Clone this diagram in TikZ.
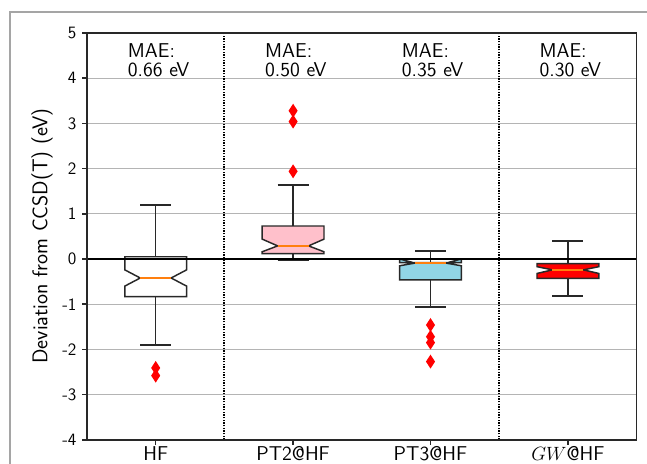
\documentclass[tikz,border=0pt]{standalone}
\usepackage{amsmath, amssymb}
\usepackage{xcolor}
\usepackage{tikz}

\definecolor{boxpink}{RGB}{255,192,203}
\definecolor{boxblue}{RGB}{145,213,230}
\definecolor{boxred}{RGB}{255,0,0}
\definecolor{medorange}{RGB}{255,127,14}
\definecolor{gridgray}{RGB}{180,180,180}
\definecolor{framegray}{RGB}{165,165,165}
\definecolor{edgegray}{RGB}{40,40,40}

\tikzset{
  gridln/.style={color=gridgray, line width=0.75pt},
  axisln/.style={color=edgegray, line width=1.1pt},
  whisk/.style={color=edgegray, line width=1.1pt},
  boxline/.style={color=edgegray, line width=1.1pt, line join=miter},
  median/.style={color=medorange, line width=1.1pt},
  sepline/.style={color=black, line width=1.6pt, dash pattern={on 1pt off 1pt}},
  zeroline/.style={color=black, line width=1.6pt},
  flier/.style={fill=red},
  bigtxt/.style={font=\sffamily\fontsize{15}{14.5}\selectfont},
  ticktxt/.style={font=\sffamily\fontsize{13}{14}\selectfont},
}

% notched box: x, whislo, q1, notch low, median, notch high, q3, whishi, fill
\newcommand{\notchbox}[9]{%
  \draw [whisk] (#1,#3) -- (#1,#2) ({#1-0.1125},#2) -- ({#1+0.1125},#2);
  \draw [whisk] (#1,#7) -- (#1,#8) ({#1-0.1125},#8) -- ({#1+0.1125},#8);
  \draw [boxline, fill=#9] ({#1-0.225},#3) -- ({#1+0.225},#3) -- ({#1+0.225},#4) -- ({#1+0.1125},#5) -- ({#1+0.225},#6) -- ({#1+0.225},#7) -- ({#1-0.225},#7) -- ({#1-0.225},#6) -- ({#1-0.1125},#5) -- ({#1-0.225},#4) -- cycle;
  \draw [median] ({#1-0.1125},#5) -- ({#1+0.1125},#5);
}
% outlier marker
\newcommand{\flier}[2]{\fill [flier, shift={(#1,#2)}] (-0.033,0) -- (0,0.155) -- (0.033,0) -- (0,-0.155) -- cycle;}

\begin{document}
\begin{tikzpicture}[x=0.75pt,y=0.75pt,yscale=-1,xscale=1]
\useasboundingbox (0,0) rectangle (647,464);

%Shape: outer frame
\draw [color=framegray, line width=1pt] (647,12) -- (10,12) -- (10,464);

\begin{scope}[shift={(18.3,259)}, xscale=137.4, yscale=-45.2]
  % grid
  \foreach \v in {-4,...,5} {\draw [gridln] (0.5,\v) -- (4.5,\v);}
  % separators
  \draw [sepline] (1.5,-4) -- (1.5,5);
  \draw [sepline] (3.5,-4) -- (3.5,5);

  %Shape: boxes
  \notchbox{1}{-1.90}{-0.83}{-0.60}{-0.42}{-0.24}{0.05}{1.19}{white}
  \notchbox{2}{-0.03}{0.12}{0.16}{0.29}{0.44}{0.73}{1.64}{boxpink}
  \notchbox{3}{-1.06}{-0.46}{-0.15}{-0.09}{0.0}{-0.08}{0.18}{boxblue}
  \notchbox{4}{-0.82}{-0.43}{-0.32}{-0.24}{-0.17}{-0.10}{0.40}{boxred}

  % outliers
  \flier{1}{-2.41} \flier{1}{-2.58}
  \flier{2}{1.94} \flier{2}{3.04} \flier{2}{3.28}
  \flier{3}{-1.46} \flier{3}{-1.72} \flier{3}{-1.85} \flier{3}{-2.27}

  \draw [zeroline] (0.5,0) -- (4.5,0);
  \draw [axisln] (0.5,-4) rectangle (4.5,5);

  % y ticks
  \foreach \v in {-4,...,5} {
    \draw [axisln] (0.5,\v) -- (0.46,\v);
    \node [ticktxt, anchor=east, inner sep=0pt] (ytick\v) at (0.425,\v) {\v};
  }
  % x ticks
  \foreach \i/\lab in {1/HF, 2/PT2@HF, 3/PT3@HF, 4/$GW$@HF} {
    \draw [axisln] (\i,-4) -- (\i,-4.12);
    \node [bigtxt, anchor=base, inner sep=0pt] (xtick\i) at (\i,-4.46) {\lab};
  }

  % Text Node
  \node [bigtxt, anchor=base west, align=left, inner sep=0pt] (mae1) at (0.796,4.03) {MAE:\\0.66 eV};
  % Text Node
  \node [bigtxt, anchor=base west, align=left, inner sep=0pt] (mae2) at (1.795,4.03) {MAE:\\0.50 eV};
  % Text Node
  \node [bigtxt, anchor=base west, align=left, inner sep=0pt] (mae3) at (2.790,4.03) {MAE:\\0.35 eV};
  % Text Node
  \node [bigtxt, anchor=base west, align=left, inner sep=0pt] (mae4) at (3.792,4.03) {MAE:\\0.30 eV};

  % Text Node
  \node [font=\sffamily\fontsize{16}{18}\selectfont, rotate=90, inner sep=0pt] (ylab) at (0.1725,0.509) {Deviation from CCSD(T) (eV)};
\end{scope}
\end{tikzpicture}
\end{document}
